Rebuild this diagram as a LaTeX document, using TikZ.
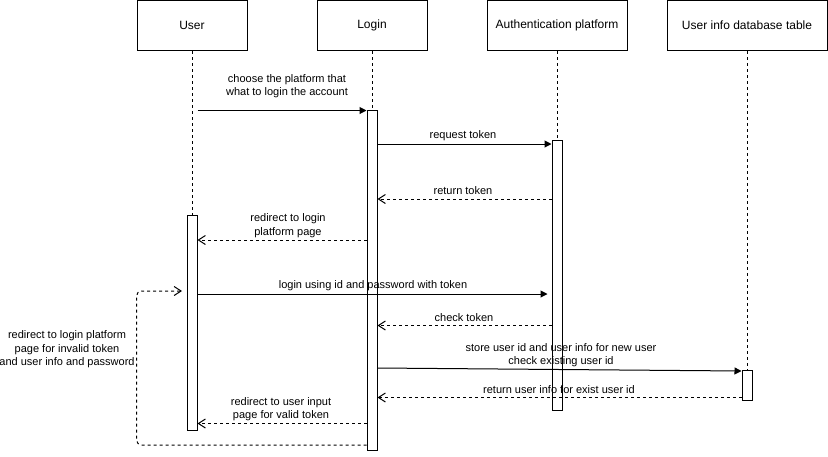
\documentclass[tikz,border=0pt]{standalone}
\usepackage{fontspec}
\setmainfont{Liberation Sans}
\usetikzlibrary{arrows.meta,calc}
\begin{document}
\begin{tikzpicture}[x=1pt,y=-1pt,line width=1pt,
  head/.style={draw,rectangle,minimum height=50pt,inner sep=0pt,font=\fontsize{12}{14}\selectfont},
  act/.style={draw,fill=white,rectangle,minimum width=10pt,inner sep=0pt,anchor=north},
  life/.style={dash pattern=on 3pt off 3pt},
  msg/.style={-{Triangle[length=7pt,width=7pt]}},
  ret/.style={dash pattern=on 3pt off 3pt,-{Straight Barb[length=7pt,width=9pt,line width=1pt]}},
  lbl/.style={inner sep=0pt,align=center,font=\fontsize{11}{13.5}\selectfont}]
\useasboundingbox (0,0) rectangle (828,456);
% headers
\node[head,minimum width=110pt] (hU) at (192,25.5) {User};
\node[head,minimum width=110pt] (hL) at (372,25.5) {Login};
\node[head,minimum width=140pt] (hA) at (557,25.5) {Authentication platform};
\node[head,minimum width=160pt] (hD) at (747,25.5) {User info database table};
% lifeline ends
\coordinate (eU) at (192,430);
\coordinate (eL) at (372,450);
\coordinate (eA) at (557,410);
\coordinate (eD) at (747,400);
\draw[life] (hU.south) -- (eU);
\draw[life] (hL.south) -- (eL);
\draw[life] (hA.south) -- (eA);
\draw[life] (hD.south) -- (eD);
% activations
\node[act,minimum height=215pt] (aU) at (192,215) {};
\node[act,minimum height=340pt] (aL) at (372,110) {};
\node[act,minimum height=270pt] (aA) at (557,140) {};
\node[act,minimum height=30pt] (aD) at (747,370) {};
% message heights
\coordinate (y1) at (0,110.5);
\coordinate (y2) at (0,144);
\coordinate (y3) at (0,199);
\coordinate (y4) at (0,240);
\coordinate (y5) at (0,294);
\coordinate (y6) at (0,325.5);
\coordinate (y7a) at (0,368);
\coordinate (y7b) at (0,371);
\coordinate (y8) at (0,397.5);
\coordinate (y9) at (0,423.5);
\coordinate (y10) at (0,445);
\coordinate (y11) at (0,291);
\coordinate (tip) at (182,291);
% messages
\draw[msg] (aU.east |- y1) -- (aL.west |- y1);
\draw[msg] (aL.east |- y2) -- (aA.west |- y2);
\draw[ret] (aA.west |- y3) -- (aL.east |- y3);
\draw[ret] (aL.west |- y4) -- (aU.east |- y4);
\draw[msg] (aU.east |- y5) -- ($(aA.west |- y5)+(-4,0)$);
\draw[ret] (aA.west |- y6) -- (aL.east |- y6);
\draw[msg] (aL.east |- y7a) -- (aD.west |- y7b);
\draw[ret] (aD.west |- y8) -- (aL.east |- y8);
\draw[ret] (aL.west |- y9) -- (aU.east |- y9);
\draw[ret,rounded corners=5pt] (aL.west |- y10) -- (hU.west |- y10) -- (hU.west |- y11) -- (tip);
% labels
\node[lbl] (l1) at (287,86) {choose the platform that\\what to login the account};
\node[lbl] (l2) at (463,136) {request token};
\node[lbl] (l3) at (463,191) {return token};
\node[lbl] (l4) at (288,225.5) {redirect to login\\platform page};
\node[lbl] (l5) at (373,286) {login using id and password with token};
\node[lbl] (l6) at (464,317.5) {check token};
\node[lbl] (l7) at (561,355) {store user id and user info for new user\\check existing user id};
\node[lbl] (l8) at (559,389.5) {return user info for exist user id};
\node[lbl] (l9) at (281,409) {redirect to user input\\page for valid token};
\node[lbl] (l10) at (67,349.5) {redirect to login platform\\page for invalid token\\and user info and password};
\end{tikzpicture}
\end{document}
